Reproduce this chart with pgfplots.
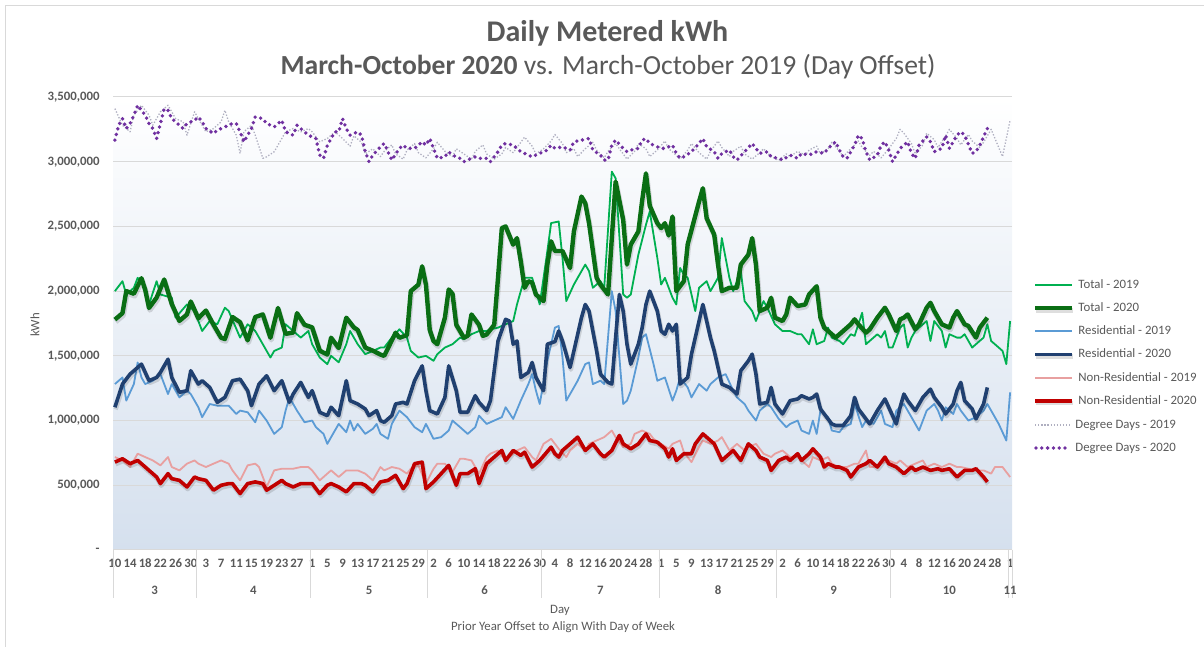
\documentclass[border=0pt]{standalone}
\usepackage{fontspec}
\setmainfont{Carlito}
\usepackage{pgfplots}
\pgfplotsset{compat=1.18}
\definecolor{textgray}{HTML}{595959}
\definecolor{gridgray}{HTML}{D9D9D9}
\definecolor{plotblue}{HTML}{D5E0EE}
\definecolor{totalold}{HTML}{00B050}
\definecolor{totalnew}{HTML}{0A6E14}
\definecolor{resold}{HTML}{5B9BD5}
\definecolor{resnew}{HTML}{204070}
\definecolor{nonold}{HTML}{E8A0A0}
\definecolor{nonnew}{HTML}{C00000}
\definecolor{ddold}{HTML}{AFAFC0}
\definecolor{ddnew}{HTML}{7030A0}
\newcommand{\smallf}{\fontsize{6.4}{7.5}\selectfont}
\newcommand{\tickf}{\fontsize{6.4}{7.5}\selectfont\bfseries}
\tikzset{shadowed/.style={preaction={draw=black, draw opacity=0.13, line width=#1, transform canvas={xshift=0.4pt,yshift=-1.1pt}}},
  legtext/.style={font=\smallf, text=textgray, anchor=west, inner sep=0pt, text height=4.6pt, text depth=1.4pt}}
\begin{document}
\begin{tikzpicture}
\path[use as bounding box] (-56.5pt,-48.5pt) rectangle (545.5pt,275pt);
\draw[gridgray,line width=0.5pt] (-53.5pt,-48.5pt) -- (-53.5pt,272pt) -- (545.5pt,272pt);
\begin{axis}[
  at={(0pt,0pt)}, anchor=south west,
  scale only axis, width=449.5pt, height=226.5pt,
  xmin=-0.5, xmax=236.5, ymin=0, ymax=3500,
  clip=false,
  axis background/.style={shade, top color=white, bottom color=plotblue},
  axis line style={draw=none},
  major tick length=0pt,
  ymajorgrids, grid style={gridgray, line width=0.5pt},
  ytick={0,500,...,3500},
  yticklabels={{-\hspace{3pt}},{500,000},{1,000,000},{1,500,000},{2,000,000},{2,500,000},{3,000,000},{3,500,000}},
  xtick={0,4,...,236},
  xticklabels={10,14,18,22,26,30,3,7,11,15,19,23,27,1,5,9,13,17,21,25,29,2,6,10,14,18,22,26,30,4,8,12,16,20,24,28,1,5,9,13,17,21,25,29,2,6,10,14,18,22,26,30,4,8,12,16,20,24,28,1},
  tick label style={font=\tickf, text=textgray, inner sep=0pt},
  yticklabel style={anchor=east, xshift=-6.5pt},
  xticklabel style={anchor=center, yshift=-6.5pt},
  every axis plot/.append style={line join=round},
]
\addplot[color=totalold, line width=0.9pt] coordinates {(0,2000)(2,2077)(3,1974)(5,2026)(6,2103)(8,2026)(9,1897)(11,2077)(12,1974)(15,1949)(16,1795)(19,1897)(21,1846)(23,1692)(25,1769)(27,1744)(29,1872)(30,1846)(33,1641)(35,1744)(37,1692)(38,1641)(41,1487)(42,1538)(44,1564)(45,1744)(47,1692)(49,1641)(51,1692)(52,1590)(54,1487)(56,1436)(57,1500)(59,1450)(61,1590)(62,1692)(64,1590)(66,1513)(68,1538)(70,1564)(71,1564)(73,1641)(75,1705)(77,1641)(78,1538)(80,1487)(82,1500)(84,1462)(85,1513)(87,1564)(89,1590)(91,1641)(92,1628)(94,1667)(96,1692)(98,1692)(99,1705)(101,1718)(103,1744)(105,1769)(106,1897)(108,2103)(110,2103)(111,2000)(112,1897)(114,2308)(115,2526)(117,2538)(118,2256)(119,1923)(121,2051)(122,2103)(124,2205)(125,2154)(126,2026)(128,2077)(129,2026)(131,2923)(132,2872)(134,1974)(135,1949)(136,1974)(138,2282)(140,2513)(141,2615)(143,2256)(144,2051)(145,2103)(147,1949)(148,1897)(149,2179)(150,2128)(151,2103)(153,1846)(154,2026)(156,2077)(157,2000)(159,2103)(160,2410)(162,2103)(163,2000)(165,2154)(166,1923)(168,1846)(169,1769)(171,1923)(172,1872)(174,1744)(176,1692)(178,1692)(180,1667)(181,1667)(183,1590)(184,1705)(185,1590)(187,1615)(188,1718)(189,1641)(191,1615)(192,1590)(194,1667)(195,1654)(196,1744)(197,1833)(198,1590)(200,1641)(201,1667)(202,1641)(203,1692)(204,1564)(205,1564)(207,1718)(208,1744)(209,1564)(210,1641)(211,1692)(212,1718)(214,1769)(215,1615)(216,1769)(218,1692)(219,1564)(220,1667)(222,1641)(223,1641)(224,1667)(226,1564)(227,1590)(229,1641)(230,1744)(231,1615)(233,1564)(234,1538)(235,1436)(236,1769)};
\addplot[color=totalnew, line width=2.2pt, shadowed=2.6pt] coordinates {(0,1780)(2,1830)(3,2000)(5,1980)(7,2100)(8,2010)(9,1870)(11,1950)(13,2090)(15,1900)(17,1770)(19,1820)(20,1920)(22,1790)(24,1850)(26,1740)(28,1640)(29,1630)(31,1800)(33,1760)(35,1620)(37,1800)(39,1820)(41,1640)(43,1870)(45,1670)(47,1680)(48,1830)(50,1740)(52,1720)(54,1540)(56,1510)(57,1640)(59,1560)(61,1795)(63,1720)(64,1700)(66,1564)(68,1540)(70,1510)(71,1500)(74,1679)(75,1640)(77,1660)(78,2000)(80,2050)(81,2192)(82,2050)(83,1700)(84,1615)(85,1590)(87,1795)(88,2013)(89,1980)(90,1740)(92,1641)(93,1655)(94,1820)(96,1740)(97,1654)(98,1665)(100,1740)(101,2103)(102,2487)(103,2500)(105,2359)(106,2410)(107,2231)(108,2026)(109,2077)(110,2065)(111,1974)(113,1923)(114,2205)(115,2385)(116,2310)(118,2310)(120,2179)(121,2461)(123,2731)(124,2680)(125,2525)(127,2103)(128,2050)(130,1974)(131,2410)(132,2846)(134,2550)(135,2205)(136,2360)(138,2461)(139,2700)(140,2910)(141,2660)(143,2525)(144,2487)(145,2525)(146,2430)(147,2577)(148,2000)(150,2077)(151,2361)(154,2692)(155,2795)(156,2564)(158,2436)(159,2205)(160,2000)(162,2026)(164,2026)(165,2205)(167,2282)(168,2410)(169,2205)(170,1846)(172,1872)(173,1949)(174,1795)(176,1769)(177,1820)(178,1949)(180,1885)(182,1897)(183,1974)(185,2038)(186,1795)(187,1718)(189,1667)(190,1641)(192,1692)(194,1744)(195,1782)(196,1744)(198,1679)(199,1705)(201,1795)(203,1872)(204,1820)(206,1692)(207,1782)(208,1795)(209,1820)(211,1705)(212,1744)(214,1872)(215,1910)(216,1846)(218,1744)(220,1718)(221,1795)(222,1846)(224,1744)(225,1731)(227,1641)(228,1718)(230,1795)};
\addplot[color=resold, line width=0.9pt] coordinates {(0,1282)(2,1333)(3,1154)(5,1282)(6,1449)(7,1333)(8,1282)(10,1308)(12,1359)(14,1205)(15,1282)(17,1179)(19,1231)(20,1205)(22,1103)(23,1026)(25,1128)(27,1115)(28,1115)(30,1115)(32,1051)(33,1077)(35,1064)(37,987)(38,1077)(40,1000)(42,897)(44,949)(45,1077)(46,1179)(48,1077)(50,987)(52,1000)(53,949)(55,897)(56,820)(57,872)(59,974)(61,910)(62,1000)(63,923)(64,974)(66,897)(68,936)(69,974)(70,897)(72,859)(73,974)(75,1077)(77,1026)(79,949)(81,910)(82,974)(84,859)(86,872)(88,923)(89,1000)(91,949)(93,897)(95,949)(96,1038)(98,974)(100,1000)(102,1026)(103,1103)(105,1013)(107,1154)(109,1282)(110,1359)(111,1231)(112,1128)(114,1462)(116,1718)(117,1731)(118,1487)(119,1154)(121,1256)(122,1308)(124,1436)(125,1449)(126,1282)(128,1308)(129,1282)(131,2000)(132,1846)(134,1128)(135,1154)(136,1231)(138,1487)(139,1641)(140,1667)(142,1436)(143,1308)(145,1333)(147,1154)(148,1231)(149,1333)(151,1256)(152,1179)(154,1282)(156,1231)(157,1282)(159,1333)(161,1359)(163,1231)(164,1179)(166,1128)(167,1077)(169,1000)(170,1077)(172,1128)(173,1103)(175,1013)(177,949)(178,974)(180,1000)(181,923)(183,897)(184,1000)(185,897)(186,1077)(188,1026)(189,923)(191,910)(192,949)(194,974)(195,1128)(197,949)(198,1000)(200,974)(202,1077)(203,974)(205,949)(206,1077)(208,1128)(210,1026)(212,923)(213,1000)(214,1077)(216,1128)(217,1077)(218,1000)(219,1103)(221,1051)(222,1128)(223,1077)(225,1000)(227,1026)(229,1077)(230,1128)(231,1077)(233,974)(235,846)(236,1218)};
\addplot[color=resnew, line width=1.8pt, shadowed=2.2pt] coordinates {(0,1103)(2,1282)(4,1359)(6,1410)(7,1436)(9,1308)(11,1333)(12,1372)(14,1474)(15,1333)(17,1218)(19,1231)(20,1385)(22,1282)(23,1308)(25,1256)(27,1141)(29,1179)(31,1308)(33,1320)(35,1231)(36,1115)(38,1282)(40,1346)(42,1231)(44,1308)(46,1141)(47,1205)(49,1295)(51,1179)(52,1231)(54,1064)(56,1038)(57,1103)(59,1038)(61,1308)(62,1154)(64,1128)(66,1090)(67,1038)(69,1077)(70,1000)(71,987)(73,1038)(74,1128)(76,1141)(77,1128)(79,1308)(81,1423)(82,1231)(83,1077)(85,1051)(87,1179)(88,1423)(90,1231)(91,1064)(93,1064)(95,1192)(96,1141)(98,1077)(99,1154)(101,1615)(103,1782)(104,1769)(105,1590)(106,1615)(107,1333)(109,1372)(110,1449)(111,1333)(113,1231)(114,1590)(116,1610)(117,1692)(118,1615)(120,1410)(121,1538)(123,1795)(124,1897)(125,1846)(127,1538)(128,1359)(130,1295)(131,1282)(132,1641)(133,1974)(134,1846)(135,1590)(136,1436)(138,1590)(139,1718)(140,1897)(141,2000)(143,1846)(144,1692)(145,1667)(146,1744)(147,1692)(148,1744)(149,1282)(151,1333)(152,1513)(154,1769)(155,1897)(157,1641)(158,1538)(159,1410)(160,1282)(162,1256)(164,1205)(165,1385)(167,1462)(168,1513)(169,1359)(170,1128)(172,1141)(173,1256)(174,1128)(176,1051)(178,1154)(180,1167)(181,1192)(183,1167)(184,1179)(185,1205)(186,1090)(187,1051)(189,974)(190,962)(192,962)(194,1038)(195,1179)(196,1090)(198,1013)(199,974)(201,1077)(203,1167)(204,1103)(206,974)(207,1103)(208,1205)(209,1154)(211,1077)(213,1179)(215,1243)(216,1179)(218,1103)(219,1051)(221,1128)(222,1231)(223,1295)(224,1154)(226,1090)(227,1013)(229,1128)(230,1256)};
\addplot[color=nonold, line width=0.9pt] coordinates {(0,718)(2,692)(4,641)(6,744)(8,718)(10,692)(12,654)(14,718)(15,641)(17,615)(19,667)(21,692)(22,667)(24,641)(26,667)(28,692)(30,667)(31,615)(33,538)(35,654)(37,667)(38,641)(40,487)(42,615)(44,628)(45,628)(47,628)(49,641)(51,641)(52,615)(54,538)(56,590)(57,615)(59,564)(61,615)(62,615)(64,615)(66,590)(68,538)(70,641)(71,615)(73,641)(75,628)(77,590)(78,628)(80,654)(82,513)(84,628)(85,667)(87,667)(89,603)(91,705)(92,705)(94,692)(96,590)(98,718)(99,744)(101,769)(103,692)(105,744)(106,769)(108,795)(110,718)(111,692)(113,820)(115,859)(117,782)(119,718)(120,769)(122,820)(124,769)(125,820)(127,846)(129,872)(131,923)(132,872)(134,795)(136,820)(137,897)(139,923)(141,897)(142,859)(144,820)(146,782)(147,820)(149,846)(150,756)(152,679)(154,795)(155,846)(157,820)(159,846)(160,872)(162,769)(164,820)(166,769)(167,795)(169,820)(171,744)(173,718)(174,744)(176,769)(178,718)(180,718)(181,692)(183,641)(184,718)(186,692)(188,718)(189,667)(191,641)(193,641)(195,667)(196,667)(198,769)(199,641)(201,641)(202,667)(204,692)(206,667)(207,692)(209,641)(211,667)(213,692)(214,641)(216,667)(218,641)(220,667)(222,641)(223,641)(225,628)(227,615)(229,615)(231,590)(232,641)(234,641)(236,564)};
\addplot[color=nonnew, line width=1.8pt, shadowed=2.2pt] coordinates {(0,679)(2,705)(4,667)(6,692)(8,641)(9,615)(11,564)(12,513)(14,590)(15,551)(17,538)(19,487)(21,564)(22,551)(24,538)(26,462)(28,500)(30,513)(31,513)(33,436)(35,513)(37,526)(39,513)(40,462)(42,500)(44,538)(45,513)(47,487)(49,513)(51,513)(52,513)(54,436)(56,500)(57,513)(59,487)(61,449)(63,513)(65,513)(66,500)(68,449)(70,526)(72,538)(74,577)(76,474)(77,513)(79,667)(81,679)(82,474)(84,526)(86,590)(88,654)(90,500)(91,590)(93,590)(95,628)(96,513)(98,667)(100,718)(102,769)(103,692)(105,769)(107,731)(108,756)(110,641)(112,692)(115,795)(116,744)(117,718)(118,769)(120,820)(122,872)(124,769)(126,820)(128,744)(129,718)(131,769)(133,885)(134,820)(136,782)(138,820)(140,897)(141,846)(143,833)(145,782)(146,718)(147,782)(148,692)(150,744)(152,744)(153,820)(155,897)(157,846)(158,820)(160,692)(162,744)(163,769)(165,692)(167,820)(169,769)(170,718)(172,692)(173,615)(175,692)(177,718)(178,692)(180,744)(181,692)(183,744)(184,782)(186,718)(187,641)(188,667)(190,641)(191,641)(193,615)(194,564)(196,641)(198,667)(199,692)(201,641)(203,718)(204,667)(206,641)(208,590)(210,641)(211,615)(213,641)(215,615)(217,628)(218,615)(220,628)(222,564)(224,615)(226,615)(227,628)(229,564)(230,526)};
\addplot[color=ddold, line width=0.65pt, dash pattern=on 0.65pt off 0.9pt] coordinates {(0,3410)(2,3282)(4,3231)(5,3359)(7,3436)(9,3359)(10,3282)(12,3385)(14,3436)(16,3333)(18,3308)(19,3205)(21,3385)(23,3282)(24,3231)(26,3256)(28,3308)(29,3397)(30,3308)(32,3205)(33,3064)(34,3231)(36,3282)(37,3205)(39,3026)(40,3038)(42,3077)(44,3179)(45,3231)(47,3256)(49,3231)(51,3256)(52,3231)(54,3154)(56,3179)(58,3231)(60,3180)(62,3120)(63,3200)(65,3150)(66,3060)(68,3100)(70,3040)(71,3080)(73,3130)(74,3060)(76,3020)(77,3090)(79,3140)(80,3070)(82,3030)(84,3100)(85,3150)(87,3080)(89,3040)(90,3100)(92,3060)(94,3020)(95,3080)(97,3130)(98,3060)(100,3020)(102,3060)(103,3110)(105,3070)(107,3150)(108,3190)(110,3120)(111,3060)(113,3100)(115,3160)(116,3210)(118,3140)(119,3070)(121,3100)(122,3040)(124,3100)(126,3150)(127,3090)(129,3030)(130,3080)(132,3140)(134,3060)(135,3020)(137,3080)(138,3140)(140,3100)(141,3040)(143,3090)(145,3160)(146,3100)(148,3050)(149,3020)(151,3090)(152,3140)(154,3070)(156,3020)(157,3080)(159,3160)(160,3110)(162,3040)(163,3080)(165,3120)(166,3060)(168,3020)(170,3070)(171,3100)(173,3040)(175,3010)(177,3060)(178,3040)(180,3080)(182,3050)(183,3090)(185,3120)(186,3060)(188,3100)(189,3150)(191,3080)(192,3040)(194,3100)(196,3160)(197,3110)(199,3050)(200,3080)(202,3030)(204,3100)(206,3180)(207,3250)(208,3220)(210,3140)(211,3060)(213,3130)(214,3220)(216,3170)(217,3110)(219,3200)(220,3250)(222,3180)(223,3130)(225,3210)(226,3160)(228,3110)(229,3150)(231,3250)(232,3180)(234,3040)(236,3320)};
\addplot[color=ddnew, line width=1.9pt, line cap=round, dash pattern=on 0pt off 2.9pt] coordinates {(0,3167)(1,3282)(2,3333)(3,3256)(4,3295)(5,3359)(6,3436)(8,3359)(9,3295)(10,3256)(11,3179)(12,3295)(13,3410)(14,3397)(15,3333)(17,3282)(18,3256)(19,3295)(21,3320)(22,3346)(23,3308)(24,3256)(26,3218)(27,3244)(28,3256)(30,3282)(31,3295)(32,3295)(33,3231)(34,3154)(36,3256)(37,3346)(39,3333)(40,3295)(42,3269)(44,3320)(45,3231)(47,3205)(48,3282)(50,3231)(51,3205)(53,3179)(54,3051)(55,3026)(56,3128)(58,3231)(59,3231)(60,3333)(61,3256)(62,3205)(64,3231)(65,3205)(66,3077)(67,3000)(68,3051)(70,3115)(71,3141)(72,3077)(73,3013)(75,3103)(76,3128)(77,3103)(79,3103)(80,3128)(81,3154)(82,3128)(83,3179)(84,3103)(85,3026)(87,3038)(88,3077)(89,3051)(91,3026)(92,3000)(93,3013)(95,3038)(96,3026)(98,3026)(99,3000)(101,3077)(102,3128)(103,3141)(105,3128)(106,3103)(107,3077)(109,3051)(110,3038)(112,3064)(114,3090)(115,3128)(116,3103)(118,3115)(120,3090)(121,3154)(123,3167)(125,3179)(126,3090)(128,3051)(129,3013)(130,3013)(131,3128)(132,3167)(134,3103)(135,3077)(136,3090)(138,3103)(139,3167)(140,3179)(141,3141)(143,3115)(144,3103)(145,3103)(147,3128)(148,3064)(149,3026)(150,3038)(152,3077)(154,3141)(155,3179)(156,3115)(158,3077)(159,3026)(160,3064)(162,3090)(163,3038)(164,3013)(166,3077)(168,3141)(169,3103)(170,3064)(172,3077)(173,3038)(175,3026)(176,3013)(178,3051)(180,3026)(181,3064)(183,3051)(185,3077)(187,3064)(188,3103)(190,3154)(191,3090)(192,3038)(193,3026)(195,3128)(196,3205)(197,3179)(198,3077)(199,3013)(201,3051)(202,3128)(203,3154)(204,3090)(205,3000)(206,3051)(207,3103)(209,3154)(210,3064)(211,3026)(212,3128)(214,3192)(215,3154)(216,3077)(218,3103)(219,3205)(220,3103)(222,3205)(223,3231)(224,3205)(226,3064)(227,3077)(228,3128)(230,3256)};
% category axis frame: axis line and month separators
\draw[gridgray, line width=0.5pt] (axis cs:-0.5,0) -- (axis cs:236.5,0);
\draw[gridgray, line width=0.5pt] (axis cs:-0.5,0) -- ([yshift=-24pt]axis cs:-0.5,0);
\draw[gridgray, line width=0.5pt] (axis cs:21.5,0) -- ([yshift=-24pt]axis cs:21.5,0);
\draw[gridgray, line width=0.5pt] (axis cs:51.5,0) -- ([yshift=-24pt]axis cs:51.5,0);
\draw[gridgray, line width=0.5pt] (axis cs:82.5,0) -- ([yshift=-24pt]axis cs:82.5,0);
\draw[gridgray, line width=0.5pt] (axis cs:112.5,0) -- ([yshift=-24pt]axis cs:112.5,0);
\draw[gridgray, line width=0.5pt] (axis cs:143.5,0) -- ([yshift=-24pt]axis cs:143.5,0);
\draw[gridgray, line width=0.5pt] (axis cs:174.5,0) -- ([yshift=-24pt]axis cs:174.5,0);
\draw[gridgray, line width=0.5pt] (axis cs:204.5,0) -- ([yshift=-24pt]axis cs:204.5,0);
\draw[gridgray, line width=0.5pt] (axis cs:235.5,0) -- ([yshift=-24pt]axis cs:235.5,0);
\draw[gridgray, line width=0.5pt] (axis cs:236.5,0) -- ([yshift=-24pt]axis cs:236.5,0);
\node[font=\tickf, text=textgray, inner sep=0pt] at ([yshift=-20pt]axis cs:10.5,0) {3};
\node[font=\tickf, text=textgray, inner sep=0pt] at ([yshift=-20pt]axis cs:36.5,0) {4};
\node[font=\tickf, text=textgray, inner sep=0pt] at ([yshift=-20pt]axis cs:67,0) {5};
\node[font=\tickf, text=textgray, inner sep=0pt] at ([yshift=-20pt]axis cs:97.5,0) {6};
\node[font=\tickf, text=textgray, inner sep=0pt] at ([yshift=-20pt]axis cs:128,0) {7};
\node[font=\tickf, text=textgray, inner sep=0pt] at ([yshift=-20pt]axis cs:159,0) {8};
\node[font=\tickf, text=textgray, inner sep=0pt] at ([yshift=-20pt]axis cs:189.5,0) {9};
\node[font=\tickf, text=textgray, inner sep=0pt] at ([yshift=-20pt]axis cs:220,0) {10};
\node[font=\tickf, text=textgray, inner sep=0pt] at ([yshift=-20pt]axis cs:236,0) {11};
\end{axis}
% legend
\draw[totalold, line width=0.9pt] (461pt,132.5pt) -- (479.5pt,132.5pt);
\node[legtext] at (482.5pt,132.5pt) {Total - 2019};
\draw[totalnew, line width=2.2pt, shadowed=2.6pt] (461pt,121pt) -- (479.5pt,121pt);
\node[legtext] at (482.5pt,121pt) {Total - 2020};
\draw[resold, line width=0.9pt] (461pt,109.5pt) -- (479.5pt,109.5pt);
\node[legtext] at (482.5pt,109.5pt) {Residential - 2019};
\draw[resnew, line width=1.8pt, shadowed=2.2pt] (461pt,97.75pt) -- (479.5pt,97.75pt);
\node[legtext] at (482.5pt,97.75pt) {Residential - 2020};
\draw[nonold, line width=0.9pt] (461pt,86pt) -- (479.5pt,86pt);
\node[legtext] at (482.5pt,86pt) {Non-Residential - 2019};
\draw[nonnew, line width=1.8pt, shadowed=2.2pt] (461pt,74.5pt) -- (479.5pt,74.5pt);
\node[legtext] at (482.5pt,74.5pt) {Non-Residential - 2020};
\draw[ddold, line width=0.65pt, dash pattern=on 0.65pt off 0.9pt] (461pt,62.5pt) -- (479pt,62.5pt);
\node[legtext] at (481pt,62.5pt) {Degree Days - 2019};
\draw[ddnew, line width=1.9pt, line cap=round, dash pattern=on 0pt off 2.9pt] (461.5pt,51pt) -- (477pt,51pt);
\node[legtext] at (481pt,51pt) {Degree Days - 2020};
\node[font=\fontsize{15}{18}\selectfont\bfseries, text=textgray] at (247.25pt,258.5pt) {Daily Metered kWh};
\node[font=\fontsize{13.8}{16}\selectfont, text=textgray] at (247.5pt,241.5pt) {\textbf{March-October 2020} vs. March-October 2019 (Day Offset)};
\node[font=\smallf, text=textgray, rotate=90] at (-39pt,112.5pt) {kWh};
\node[font=\smallf, text=textgray, inner sep=0pt] at (223.5pt,-30pt) {Day};
\node[font=\smallf, text=textgray, inner sep=0pt] at (225pt,-38.5pt) {Prior Year Offset to Align With Day of Week};
\end{tikzpicture}
\end{document}
